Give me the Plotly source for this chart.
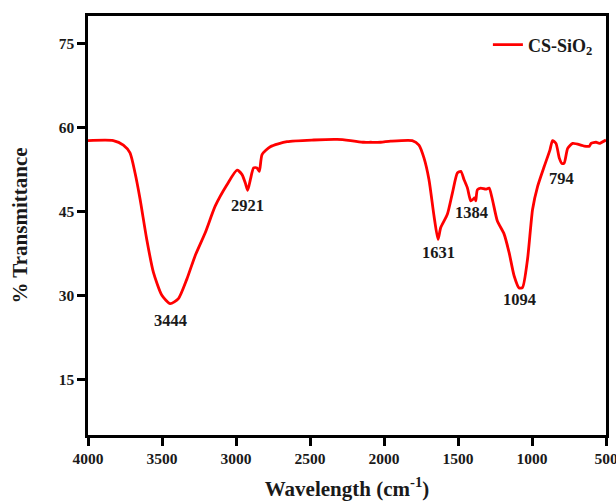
import plotly.graph_objects as go

wavenumber = [4000, 3829, 3761, 3716, 3682, 3648, 3603, 3558, 3501, 3445, 3389, 3332, 3276,
              3208, 3140, 3061, 2993, 2959, 2937, 2921, 2903, 2881, 2858, 2842, 2824, 2768,
              2655, 2475, 2317, 2226, 2136, 2091, 2023, 1955, 1809, 1764, 1730, 1696, 1662,
              1635, 1617, 1572, 1538, 1504, 1481, 1459, 1436, 1414, 1398, 1386, 1380, 1369,
              1346, 1312, 1290, 1268, 1234, 1189, 1155, 1121, 1087, 1064, 1030, 996, 962,
              917, 879, 861, 838, 816, 798, 782, 759, 725, 669, 646, 612, 601, 567, 545, 500]
transmittance = [57.7, 57.7, 56.9, 55.5, 51.9, 47.2, 40.0, 34.1, 30.0, 28.5, 29.4, 32.9, 37.1,
                 41.2, 46.0, 49.8, 52.4, 51.6, 50.1, 48.8, 50.7, 52.8, 52.8, 52.2, 55.2, 56.6,
                 57.5, 57.8, 57.9, 57.7, 57.4, 57.4, 57.4, 57.6, 57.7, 56.9, 54.6, 50.7, 44.2,
                 40.0, 42.1, 44.5, 48.3, 51.9, 52.2, 50.7, 49.2, 46.9, 47.2, 47.5, 46.9, 48.9,
                 49.2, 49.0, 49.2, 47.2, 43.3, 41.0, 37.7, 33.5, 31.3, 31.4, 36.5, 45.4, 49.5,
                 53.1, 56.0, 57.7, 57.2, 54.6, 53.6, 53.7, 56.3, 57.2, 56.9, 56.7, 56.7, 57.2,
                 57.4, 57.2, 57.8]

peak_labels = ["3444", "2921", "1631", "1384", "1094", "794"]
peak_label_x = [3445, 2925, 1635, 1409, 1087, 804]
peak_label_y = [25.5, 46.1, 37.7, 44.8, 29.2, 50.9]

x_ticks = [4000, 3500, 3000, 2500, 2000, 1500, 1000, 500]
y_ticks = [15, 30, 45, 60, 75]

FONT = "Liberation Serif"
TXT = "#1a1a1a"

fig = go.Figure()
fig.add_trace(go.Scatter(
    x=wavenumber, y=transmittance, mode="lines",
    line=dict(color="#ff0000", width=2.8, shape="spline", smoothing=0.6),
    name="CS-SiO<sub>2</sub>",
))

for t, xx, yy in zip(peak_labels, peak_label_x, peak_label_y):
    fig.add_annotation(x=xx, y=yy, text=t, showarrow=False,
                       font=dict(family=FONT, size=16.5, color=TXT, weight="bold"))

axis_common = dict(
    showline=True, linecolor="black", linewidth=2.5, mirror=True,
    ticks="outside", ticklen=8, tickwidth=2.5, tickcolor="black",
    showgrid=False, zeroline=False, automargin=False,
    ticklabeloverflow="allow",
    tickfont=dict(family=FONT, size=15.5, color=TXT, weight="bold"),
)

fig.update_xaxes(range=[4000, 500], tickvals=x_ticks,
                 title=dict(text="Wavelength (cm<sup>-1</sup>)",
                            font=dict(family=FONT, size=21, color=TXT, weight="bold"),
                            standoff=18),
                 **axis_common)
fig.update_yaxes(range=[5, 80], tickvals=y_ticks,
                 title=dict(text="% Transmittance",
                            font=dict(family=FONT, size=21, color=TXT, weight="bold"),
                            standoff=26),
                 **axis_common)

fig.update_layout(
    width=616, height=501,
    margin=dict(l=88, r=10, t=16, b=66),
    plot_bgcolor="white", paper_bgcolor="white",
    showlegend=True,
    legend=dict(x=0.772, y=0.975, xanchor="left", yanchor="top",
                bgcolor="rgba(0,0,0,0)",
                font=dict(family=FONT, size=18, color=TXT, weight="bold")),
)

fig.write_html("out.html", config={"displayModeBar": False},
               post_script="document.body.style.margin='0px';"
                           "document.body.style.overflow='hidden';"
                           "document.documentElement.style.overflow='hidden';")
